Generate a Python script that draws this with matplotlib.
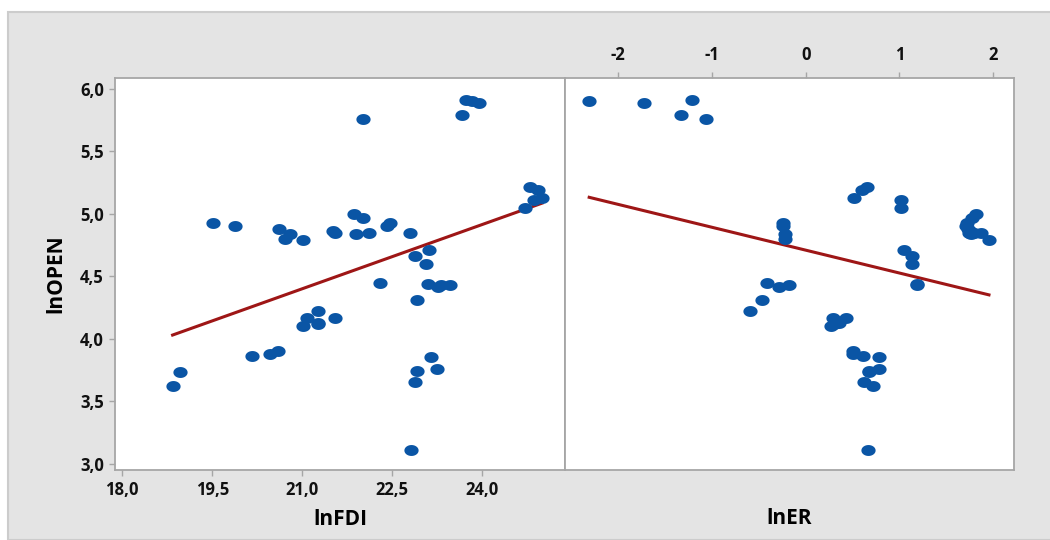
import numpy as np
import matplotlib.pyplot as plt
from matplotlib.path import Path
from matplotlib.patches import Rectangle

plt.rcParams['font.family'] = ['Open Sans', 'DejaVu Sans']

# observations: lnOPEN against lnFDI and lnER
ln_open = [5.912, 5.900, 5.885, 5.79, 5.757, 5.22, 5.19, 5.13, 5.11, 5.05,
           5.00, 4.965, 4.93, 4.93, 4.90, 4.90, 4.88, 4.864, 4.85, 4.85,
           4.85, 4.84, 4.84, 4.80, 4.79, 4.71, 4.66, 4.60, 4.45, 4.44,
           4.42, 4.43, 4.43, 4.315, 4.226, 4.17, 4.17, 4.13, 4.118, 4.104,
           3.90, 3.88, 3.866, 3.856, 3.757, 3.736, 3.744, 3.656, 3.62, 3.11]
ln_fdi = [23.73, 23.83, 23.94, 23.67, 22.02, 24.80, 24.93, 25.00, 24.86, 24.72,
          21.87, 22.02, 19.52, 22.46, 19.88, 22.42, 20.62, 21.51, 21.54, 22.11,
          22.79, 21.90, 20.80, 20.71, 21.02, 23.12, 22.88, 23.06, 22.30, 23.10,
          23.26, 23.31, 23.47, 22.91, 21.26, 21.08, 21.54, 21.26, 21.26, 21.02,
          20.59, 20.47, 20.16, 23.15, 23.24, 18.97, 22.91, 22.88, 18.84, 22.82]
ln_er = [-1.21, -2.31, -1.725, -1.33, -1.06, 0.657, 0.597, 0.52, 1.013, 1.013,
         1.817, 1.77, -0.24, 1.72, -0.24, 1.71, 1.73, 1.75, 1.745, 1.87,
         1.80, 1.76, -0.22, -0.22, 1.955, 1.05, 1.13, 1.13, -0.41, 1.19,
         -0.28, -0.175, 1.19, -0.47, -0.59, 0.295, 0.43, 0.35, 0.30, 0.27,
         0.50, 0.50, 0.61, 0.78, 0.78, 0.68, 0.68, 0.62, 0.72, 0.66]

y_ticks = [3.0, 3.5, 4.0, 4.5, 5.0, 5.5, 6.0]
y_labels = ['3,0', '3,5', '4,0', '4,5', '5,0', '5,5', '6,0']
fdi_ticks = [18.0, 19.5, 21.0, 22.5, 24.0]
fdi_labels = ['18,0', '19,5', '21,0', '22,5', '24,0']
er_ticks = [-2, -1, 0, 1, 2]
er_labels = ['-2', '-1', '0', '1', '2']

dot_color = '#0a55a5'
line_color = '#9e1616'
spine_color = '#a6a6a6'

# slightly wide oval marker, like the original
t = np.linspace(0, 2 * np.pi, 40)
oval = Path(np.column_stack([1.3 * np.cos(t), np.sin(t)]), closed=True)

fig = plt.figure(figsize=(10.5, 5.4), dpi=100)
fig.patches.append(Rectangle((8 / 1050, 0), 1, 1 - 12 / 540, transform=fig.transFigure,
                             facecolor='#e4e4e4', edgecolor='#cccccc', lw=1.5, zorder=-10))

ax1 = fig.add_axes([115 / 1050, 1 - 470 / 540, 450 / 1050, 392 / 540])
ax2 = fig.add_axes([565 / 1050, 1 - 470 / 540, 449 / 1050, 392 / 540], sharey=ax1)

for ax, xs in [(ax1, ln_fdi), (ax2, ln_er)]:
    xs = np.array(xs)
    ax.scatter(xs, ln_open, s=105, marker=oval, color=dot_color, linewidths=0, zorder=3)
    b, a = np.polyfit(xs, ln_open, 1)
    xl = np.array([xs.min(), xs.max()])
    ax.plot(xl, a + b * xl, color=line_color, lw=2.2, zorder=2)
    for sp in ax.spines.values():
        sp.set_color(spine_color)
        sp.set_linewidth(1.3)
    ax.tick_params(colors=spine_color, length=4, width=1, labelcolor='#111111',
                   labelsize=12, pad=4)

ax1.set_ylim(2.952, 6.088)
ax1.set_yticks(y_ticks)
ax1.set_yticklabels(y_labels, fontweight='bold')
ax1.set_xlim(17.88, 25.38)
ax1.set_xticks(fdi_ticks)
ax1.set_xticklabels(fdi_labels, fontweight='bold')
ax1.set_xlabel('lnFDI', fontsize=15, fontweight='bold', labelpad=7)
ax1.set_ylabel('lnOPEN', fontsize=15, fontweight='bold', labelpad=10)

ax2.set_xlim(-2.568, 2.222)
ax2.set_xticks(er_ticks)
ax2.set_xticklabels(er_labels, fontweight='bold')
ax2.xaxis.tick_top()
ax2.tick_params(axis='x', pad=6)
ax2.tick_params(axis='y', left=False, labelleft=False)
ax2.set_xlabel('lnER', fontsize=15, fontweight='bold', labelpad=27)

fig.savefig('out.png', dpi=100)
